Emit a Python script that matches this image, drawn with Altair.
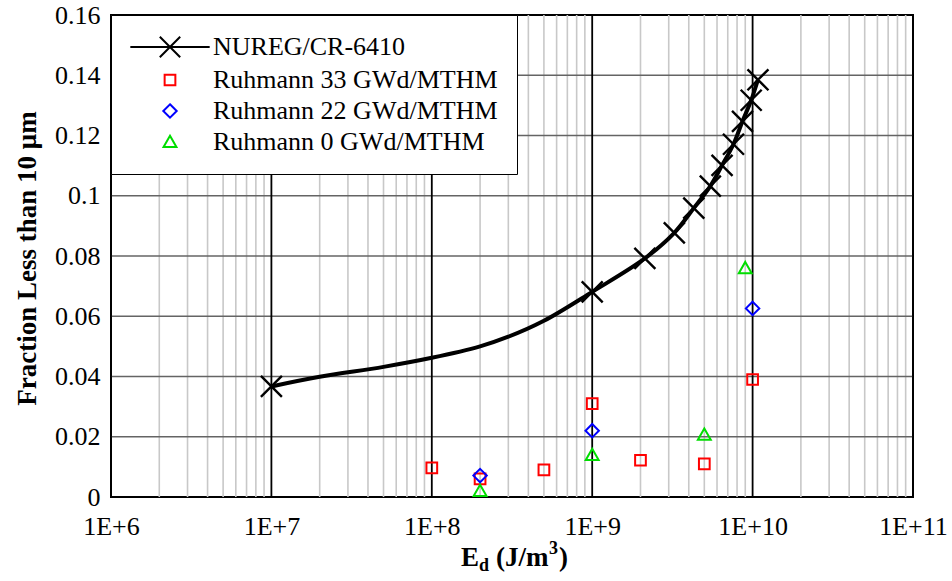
import altair as alt
import pandas as pd

# ---------------- data ----------------
SERIES = ["NUREG/CR-6410", "Ruhmann 33 GWd/MTHM", "Ruhmann 22 GWd/MTHM", "Ruhmann 0 GWd/MTHM"]
COLORS = ["#000000", "#ff0000", "#0000ff", "#00dd00"]

# NUREG/CR-6410 markers
nureg_x = [1.0e7, 1.0e9, 2.13e9, 3.25e9, 4.3e9, 5.45e9, 6.45e9, 7.6e9, 8.65e9, 9.8e9, 1.08e10]
nureg_y = [0.0367, 0.0681, 0.0792, 0.0877, 0.0959, 0.1032, 0.1101, 0.1171, 0.1247, 0.1317, 0.1385]

# NUREG/CR-6410 smooth curve
curve_x = [1.0e7, 2.0e7, 5.0e7, 1.0e8, 2.0e8, 3.0e8, 5.0e8, 1.0e9, 2.13e9, 3.25e9, 4.3e9, 5.45e9,
           6.45e9, 7.6e9, 8.65e9, 9.8e9, 1.08e10]
curve_y = [0.0367, 0.0399, 0.0432, 0.0462, 0.0500, 0.0532, 0.0585, 0.0681, 0.0792, 0.0877, 0.0959,
           0.1032, 0.1101, 0.1171, 0.1247, 0.1317, 0.1385]

r33_x = [1e8, 2e8, 5e8, 1e9, 2e9, 5e9, 1e10]
r33_y = [0.0097, 0.0060, 0.0090, 0.0310, 0.0122, 0.0110, 0.0390]
r22_x = [2e8, 1e9, 1e10]
r22_y = [0.0071, 0.0220, 0.0626]
r0_x = [2e8, 1e9, 5e9, 9e9]
r0_y = [0.0020, 0.0140, 0.0207, 0.0760]

decade_ticks = [1e6, 1e7, 1e8, 1e9, 1e10, 1e11]
minor_ticks = [m * 10.0 ** e for e in range(6, 11) for m in range(2, 10)]
y_ticks = [0, 0.02, 0.04, 0.06, 0.08, 0.1, 0.12, 0.14, 0.16]
y_grid = [0.02, 0.04, 0.06, 0.08, 0.1, 0.12, 0.14]

# ---------------- tables ----------------
curve_df = pd.DataFrame({"x": curve_x, "y": curve_y})
nureg_df = pd.DataFrame({"x": nureg_x, "y": nureg_y})
pts_df = pd.concat([
    pd.DataFrame({"x": r33_x, "y": r33_y, "series": SERIES[1]}),
    pd.DataFrame({"x": r22_x, "y": r22_y, "series": SERIES[2]}),
    pd.DataFrame({"x": r0_x, "y": r0_y, "series": SERIES[3]}),
], ignore_index=True)
minor_df = pd.DataFrame({"x": minor_ticks})
decade_df = pd.DataFrame({"x": decade_ticks})
ygrid_df = pd.DataFrame({"y": y_grid})

W, H = 802, 482
FONT = "Liberation Serif"

xscale = alt.Scale(type="log", domain=[1e6, 1e11], nice=False)
yscale = alt.Scale(domain=[0, 0.16], nice=False, zero=True)

xaxis = alt.Axis(values=decade_ticks, labelExpr="'1E+' + round(log(datum.value)/LN10)",
                 ticks=False, domain=False, grid=False, title=None,
                 labelPadding=16, labelFlush=False, labelOverlap=False)
yaxis = alt.Axis(values=y_ticks, format=".2~f", ticks=False, domain=False, grid=False,
                 labelPadding=11,
                 title="Fraction Less than 10 \u03bcm", titleAngle=270,
                 titleAlign="center", titleBaseline="middle", titleX=-84, titleY=243)

X = alt.X("x:Q", scale=xscale, axis=xaxis)
Y = alt.Y("y:Q", scale=yscale, axis=yaxis)

minor = alt.Chart(minor_df).mark_rule(color="#c8c8c8", strokeWidth=1.6).encode(x=X)
hgrid = alt.Chart(ygrid_df).mark_rule(color="#646464", strokeWidth=1.6).encode(y=Y)
major = alt.Chart(decade_df).mark_rule(color="#000000", strokeWidth=1.8).encode(x=X)

curve = alt.Chart(curve_df).mark_line(color="black", strokeWidth=4,
                                      interpolate="catmull-rom").encode(x=X, y=Y)
xmarks = alt.Chart(nureg_df).mark_point(
    shape="M-1,-1L1,1M-1,1L1,-1", size=440, color="black", strokeWidth=2.4, opacity=1
).encode(x=X, y=Y)

legend = alt.Legend(title=None, orient="top-left", offset=0, padding=19,
                    fillColor="white", strokeColor="black",
                    labelFont=FONT, labelFontSize=26, labelColor="black",
                    symbolSize=115, symbolStrokeWidth=2, symbolOffset=27,
                    labelOffset=30, rowPadding=5, labelLimit=400)

SHAPES = ["M-7.4,0L7.4,0M-1.9,-1.9L1.9,1.9M-1.9,1.9L1.9,-1.9",
          "square",
          "M0,-1.25L1.25,0L0,1.25L-1.25,0Z",
          "M0,-1.15L1.2,0.95L-1.2,0.95Z"]

points = alt.Chart(pts_df).mark_point(filled=False, size=115, strokeWidth=2, opacity=1).encode(
    x=X, y=Y,
    color=alt.Color("series:N", scale=alt.Scale(domain=SERIES, range=COLORS), legend=legend),
    shape=alt.Shape("series:N", scale=alt.Scale(domain=SERIES, range=SHAPES), legend=legend),
)

# x-axis title with subscript / superscript
def label(txt, x, dy, size):
    return alt.Chart(pd.DataFrame({"t": [txt]})).mark_text(
        font=FONT, fontSize=size, fontWeight="bold", align="left",
        baseline="alphabetic", color="black"
    ).encode(x=alt.value(x), y=alt.value(H + dy), text="t:N")

t_main = label("E", 350, 69, 27)
t_sub = label("d", 368, 74, 18)
t_rest = label("(J/m", 385, 69, 27)
t_sup = label("3", 438, 57, 18)
t_close = label(")", 448, 69, 27)

chart = alt.layer(minor, hgrid, major, curve, xmarks, points,
                  t_main, t_sub, t_rest, t_sup, t_close).properties(
    width=W, height=H,
    autosize=alt.AutoSizeParams(type="none"),
    padding={"left": 111, "top": 15, "right": 39, "bottom": 84},
    background="white",
).configure_view(stroke="black", strokeWidth=2).configure_axis(
    labelFont=FONT, labelFontSize=26, labelColor="black",
    titleFont=FONT, titleFontSize=27, titleFontWeight="bold", titleColor="black",
)

chart.save("out.html", embed_options={"renderer": "svg", "actions": False})
